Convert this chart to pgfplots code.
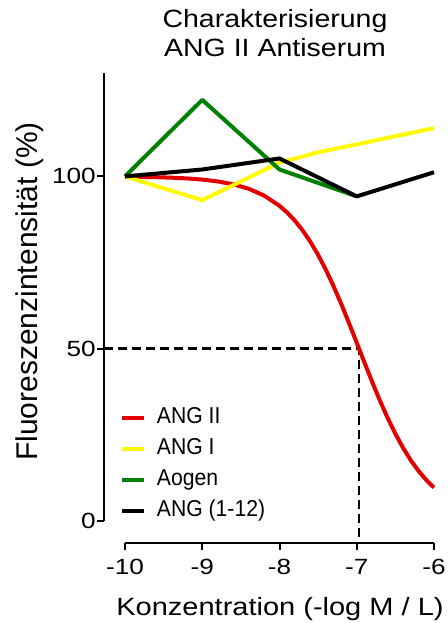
\documentclass[border=0pt]{standalone}
\usepackage{pgfplots}
\pgfplotsset{compat=1.18}
\usepackage{graphicx}
\usepackage{fontspec}
\setmainfont{Liberation Sans}
\newcommand\hs[2][1.19]{\scalebox{#1}[1]{#2}}
\definecolor{cred}{RGB}{228,0,0}
\definecolor{cyellow}{RGB}{255,250,0}
\definecolor{cgreen}{RGB}{0,128,0}
\begin{document}
\begin{tikzpicture}
\useasboundingbox (0pt,-623pt) rectangle (447pt,0pt);
% y axis
\begin{axis}[scale only axis, width=1pt, height=448pt,
  at={(104pt,-521pt)}, anchor=south west,
  xmin=0, xmax=1, ymin=0, ymax=130,
  axis y line=left, hide x axis,
  axis line style={-, line width=2pt},
  tick align=outside, major tick length=7pt,
  tick style={line width=2pt, black},
  ytick={0,50,100}, yticklabels={\hs{0},\hs{50},\hs{100}},
  yticklabel style={font=\fontsize{22}{26}\selectfont, inner sep=1pt},
]
\end{axis}
% x axis
\begin{axis}[scale only axis, width=309pt, height=1pt,
  at={(125pt,-543pt)}, anchor=south west,
  xmin=-10, xmax=-6, ymin=0, ymax=1,
  axis x line=bottom, hide y axis,
  axis line style={-, line width=2pt},
  tick align=outside, major tick length=7pt,
  tick style={line width=2pt, black},
  xtick={-10,-9,-8,-7,-6}, xticklabels={\hs{-10},\hs{-9},\hs{-8},\hs{-7},\hs{-6}},
  xticklabel style={font=\fontsize{22}{26}\selectfont, inner sep=2pt, yshift=-7pt},
]
\end{axis}
% data
\begin{axis}[scale only axis, width=309pt, height=448pt,
  at={(125pt,-521pt)}, anchor=south west,
  xmin=-10, xmax=-6, ymin=0, ymax=130,
  hide axis, clip=false,
  legend style={at={(-0.017,0.258)}, anchor=north west, draw=none, fill=none,
    inner sep=0pt, font=\fontsize{23}{27}\selectfont,
    nodes={inner sep=1pt, text height=17pt, text depth=5pt},
    row sep=7pt, column sep=10pt},
  legend cell align=left,
  legend image code/.code={\draw[#1] (0pt,0pt) -- (22pt,0pt);},
]
\addplot[forget plot, black, line width=2.5pt, dash pattern=on 9pt off 5pt] coordinates {(-10.272,50) (-6.97,50) (-6.97,-6.38)};
\addplot[cred, line width=4pt, line join=round] coordinates {
(-10,99.91) (-9.8,99.85) (-9.6,99.77) (-9.4,99.63) (-9.2,99.41) (-9.0,99.08)
(-8.8,98.54) (-8.6,97.71) (-8.4,96.42) (-8.2,94.44) (-8.0,91.46) (-7.9,89.49)
(-7.8,87.12) (-7.7,84.30) (-7.6,81.01) (-7.5,77.22) (-7.4,72.92) (-7.3,68.13)
(-7.2,62.94) (-7.1,57.43) (-7.0,51.72) (-6.9,45.98) (-6.8,40.34) (-6.7,34.94)
(-6.6,29.90) (-6.5,25.31) (-6.4,21.21) (-6.3,17.61) (-6.2,14.52) (-6.1,11.89) (-6.0,9.68)};
\addplot[cyellow, line width=4pt, line join=round] coordinates {(-10,100) (-9,93.1) (-8,104) (-7.5,107) (-7,109.3) (-6,114)};
\addplot[cgreen, line width=4pt, line join=round] coordinates {(-10,100) (-9,122.2) (-8,102) (-7,94.2)};
\addplot[black, line width=4pt, line join=round] coordinates {(-10,100) (-9,102) (-8,105.2) (-7,94.2) (-6,101.2)};
\legend{\hs[0.92]{ANG II},\hs[0.92]{ANG I},\hs[0.92]{Aogen},\hs[0.92]{ANG (1-12)}}
\end{axis}
\node[anchor=base, font=\fontsize{25}{30}\selectfont] at (275pt,-28pt) {\hs[1.14]{Charakterisierung}};
\node[anchor=base, font=\fontsize{25}{30}\selectfont] at (275pt,-57pt) {\hs[1.14]{ANG II Antiserum}};
\node[anchor=base, font=\fontsize{25}{30}\selectfont] at (280pt,-615pt) {\hs[1.16]{Konzentration (-log M / L)}};
\node[anchor=base, rotate=90, font=\fontsize{30}{34}\selectfont] at (37pt,-291.5pt) {Fluoreszenzintensität (\%)};
\end{tikzpicture}
\end{document}
